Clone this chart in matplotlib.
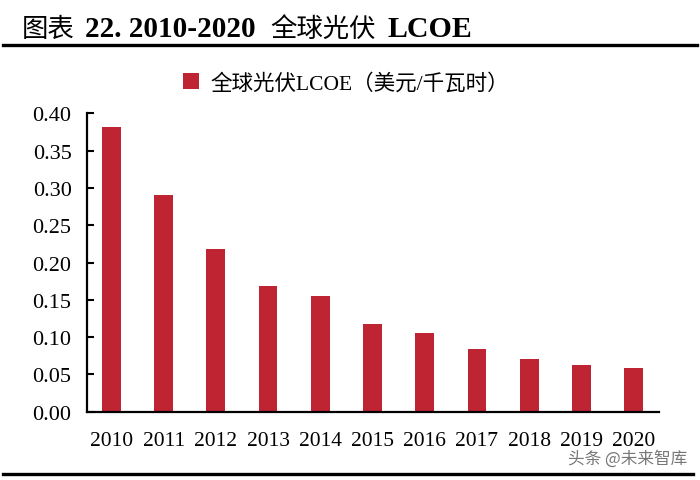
import matplotlib
matplotlib.use("Agg")
import matplotlib.pyplot as plt
import numpy as np

years = ['2010', '2011', '2012', '2013', '2014', '2015', '2016', '2017', '2018', '2019', '2020']
lcoe = [0.382, 0.290, 0.218, 0.169, 0.155, 0.118, 0.105, 0.084, 0.071, 0.062, 0.058]
y_ticks = [0.00, 0.05, 0.10, 0.15, 0.20, 0.25, 0.30, 0.35, 0.40]

serif_cjk = ['Liberation Serif', 'Noto Sans CJK SC']
bar_color = '#BE2431'

fig = plt.figure(figsize=(7, 4.81), dpi=100)
ax = fig.add_axes([0.124, 0.142, 0.817, 0.620])

x = np.arange(len(years))
ax.bar(x, lcoe, width=0.36, color=bar_color, label='全球光伏LCOE（美元/千瓦时）')

ax.set_xlim(-0.47, len(years) - 0.52)
ax.set_ylim(0, 0.40)
ax.set_xticks(x)
ax.set_xticklabels(years, family=serif_cjk, fontsize=15.5)
ax.set_yticks(y_ticks)
ax.set_yticklabels([f'{v:.2f}' for v in y_ticks], family=serif_cjk, fontsize=16)
ax.tick_params(axis='x', length=0, pad=14)
ax.tick_params(axis='y', direction='in', length=5, width=1.5, pad=11)

for side in ['top', 'right']:
    ax.spines[side].set_visible(False)
for side in ['left', 'bottom']:
    ax.spines[side].set_linewidth(1.6)

# 图例
ax.legend(loc='center', bbox_to_anchor=(0.494, 0.825), bbox_transform=fig.transFigure,
          frameon=False, handlelength=0.75, handleheight=0.75, handletextpad=0.5,
          prop={'family': serif_cjk, 'size': 15.5})

# 标题（分段字体）
ty = 1 - 37 / 481
fig.text(22 / 700, ty, '图表', family=['Noto Sans CJK SC'], fontsize=19, va='baseline')
fig.text(85 / 700, ty, '22. 2010-2020', family=serif_cjk, fontsize=21, fontweight='bold', va='baseline')
fig.text(270 / 700, ty, '全球光伏', family=['Noto Sans CJK SC'], fontsize=19, fontweight='medium', va='baseline')
fig.text(387 / 700, ty, 'LCOE', family=serif_cjk, fontsize=21.5, fontweight='bold', va='baseline')

# 标题下横线与底部横线
fig.add_artist(plt.Line2D([0.004, 0.996], [1 - 46 / 481, 1 - 46 / 481], color='black', lw=2.4))
fig.add_artist(plt.Line2D([0.004, 0.99], [1 - 475 / 481, 1 - 475 / 481], color='black', lw=2.4))

# 水印
fig.text(687 / 700, 1 - 459 / 481, '头条 @未来智库', family=['Noto Sans CJK SC'], fontsize=12,
         color='#555555', alpha=0.8, ha='right', va='center')

fig.savefig('out.png', dpi=100)
